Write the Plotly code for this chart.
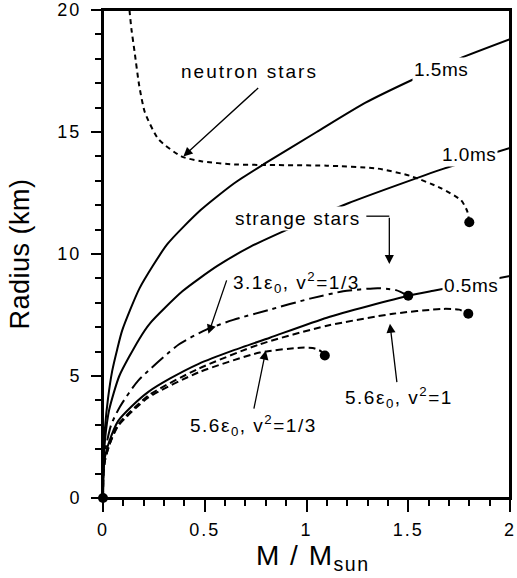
import plotly.graph_objects as go

# ---------------- data ----------------
# strange stars, rotating at 1.5 ms
m_15 = [0, 0.002, 0.01, 0.025, 0.045, 0.07, 0.094, 0.18, 0.316, 0.48, 0.645, 0.794, 1.05, 1.29, 1.51, 1.75, 2.0]
r_15 = [0, 1.5, 2.9, 4.1, 5.2, 6.1, 6.86, 8.6, 10.4, 11.8, 12.9, 13.7, 15.0, 16.2, 17.1, 18.0, 18.8]
# 1.0 ms
m_10 = [0, 0.002, 0.01, 0.03, 0.08, 0.177, 0.23, 0.39, 0.56, 0.725, 0.905, 1.205, 1.675, 2.0]
r_10 = [0, 1.4, 2.4, 3.6, 5.0, 6.5, 7.15, 8.47, 9.5, 10.3, 11.0, 12.08, 13.5, 14.35]
# 0.5 ms
m_05 = [0, 0.002, 0.01, 0.03, 0.074, 0.14, 0.223, 0.33, 0.47, 0.64, 0.82, 1.1, 1.5, 1.63, 2.0]
r_05 = [0, 1.0, 1.7, 2.3, 3.15, 3.75, 4.35, 4.9, 5.5, 6.05, 6.57, 7.39, 8.29, 8.5, 9.1]
# 3.1 eps0, v^2 = 1/3
m_31 = [0, 0.002, 0.01, 0.04, 0.084, 0.172, 0.374, 0.508, 0.64, 0.82, 1.017, 1.18, 1.35, 1.44, 1.50]
r_31 = [0, 1.1, 1.9, 3.0, 3.75, 4.8, 6.3, 6.9, 7.3, 7.72, 8.17, 8.47, 8.6, 8.52, 8.29]
# 5.6 eps0, v^2 = 1
m_56a = [0, 0.002, 0.01, 0.03, 0.074, 0.223, 0.47, 0.77, 1.1, 1.425, 1.67, 1.75, 1.795]
r_56a = [0, 1.0, 1.55, 2.15, 3.0, 4.2, 5.3, 6.3, 7.06, 7.55, 7.75, 7.72, 7.55]
# 5.6 eps0, v^2 = 1/3
m_56b = [0, 0.002, 0.01, 0.03, 0.074, 0.223, 0.47, 0.77, 0.97, 1.03, 1.07, 1.09]
r_56b = [0, 1.0, 1.55, 2.15, 2.95, 4.12, 5.15, 5.96, 6.16, 6.15, 6.02, 5.84]
# neutron stars
m_ns = [0.13, 0.14, 0.155, 0.178, 0.206, 0.273, 0.385, 0.483, 0.646, 0.78, 1.1, 1.35, 1.51, 1.66, 1.76, 1.79, 1.80]
r_ns = [20, 19.2, 18.3, 16.9, 15.8, 14.7, 14.0, 13.8, 13.67, 13.65, 13.62, 13.5, 13.2, 12.7, 12.2, 11.75, 11.3]

x_ticks = [0, 0.5, 1, 1.5, 2]
x_tick_text = ["0", "0.5", "1", "1.5", "2"]
y_ticks = [0, 5, 10, 15, 20]
y_tick_text = ["0", "5", "10", "15", "20"]

FONT = "Liberation Sans, Arial, sans-serif"


def sp(text, ls):
    return f"<span style='letter-spacing:{ls}px'>{text}</span>"


fig = go.Figure()

curves = [
    (m_15, r_15, "solid"),
    (m_10, r_10, "solid"),
    (m_05, r_05, "solid"),
    (m_31, r_31, "15px,5px,4px,5px"),
    (m_56a, r_56a, "7px,4px"),
    (m_56b, r_56b, "7px,4px"),
    (m_ns, r_ns, "5px,4px"),
]
for mx, ry, dash in curves:
    fig.add_trace(go.Scatter(x=mx, y=ry, mode="lines",
                             line=dict(color="black", width=2, dash=dash, shape="spline", smoothing=0.6),
                             showlegend=False, hoverinfo="skip"))

# end-point dots (maximum mass) and origin
dot_m = [m_ns[-1], m_31[-1], m_56a[-1], m_56b[-1], m_15[0]]
dot_r = [r_ns[-1], r_31[-1], r_56a[-1], r_56b[-1], r_15[0]]
fig.add_trace(go.Scatter(x=dot_m, y=dot_r, mode="markers", cliponaxis=False,
                         marker=dict(color="black", size=10), showlegend=False, hoverinfo="skip"))

ann = []
lab_font = dict(family=FONT, size=19, color="black")

# curve labels sitting on the curves (white background cuts the line)
for txt, x, y in [("1.5ms", 1.66, 17.55), ("1.0ms", 1.80, 14.08), ("0.5ms", 1.81, 8.69)]:
    ann.append(dict(x=x, y=y, xref="x", yref="y", text=sp(txt, 0.5), showarrow=False,
                    font=lab_font, bgcolor="white", borderpad=1))

ann.append(dict(x=0.955, y=11.47, xref="x", yref="y", text=sp("strange stars", 1.2), showarrow=False,
                font=lab_font, bgcolor="white", borderpad=1))
ann.append(dict(x=0.72, y=17.47, xref="x", yref="y", text=sp("neutron stars", 2), showarrow=False,
                font=lab_font))
ann.append(dict(x=0.95, y=8.85, xref="x", yref="y",
                text=sp("3.1ε<sub>0</sub>, v<sup>2</sup>=1/3", 1.5), showarrow=False, font=lab_font))
ann.append(dict(x=1.455, y=4.1, xref="x", yref="y",
                text=sp("5.6ε<sub>0</sub>, v<sup>2</sup>=1", 1.5), showarrow=False, font=lab_font))
ann.append(dict(x=0.74, y=2.97, xref="x", yref="y",
                text=sp("5.6ε<sub>0</sub>, v<sup>2</sup>=1/3", 1.5), showarrow=False, font=lab_font))

# arrows (tail -> head)
arrows = [
    (0.77, 16.86, 0.395, 14.0),
    (1.407, 11.55, 1.407, 9.59),
    (0.61, 8.98, 0.518, 6.73),
    (1.445, 4.69, 1.41, 7.14),
    (0.74, 3.6, 0.80, 6.04),
]
for ax_, ay_, hx, hy in arrows:
    ann.append(dict(x=hx, y=hy, ax=ax_, ay=ay_, xref="x", yref="y", axref="x", ayref="y",
                    text="", showarrow=True, arrowhead=2, arrowsize=1.4, arrowwidth=1.3,
                    arrowcolor="black", standoff=0, startstandoff=0))

# axis titles
ann.append(dict(x=-0.205, y=0.5, xref="paper", yref="paper", xanchor="center", yanchor="middle",
                text=sp("Radius (km)", 0.5), textangle=-90,
                showarrow=False, font=dict(family=FONT, size=27, color="black")))
ann.append(dict(x=0.515, y=-0.122, xref="paper", yref="paper", xanchor="center", yanchor="middle",
                text=sp("M / M<sub>sun</sub>", 1.5),
                showarrow=False, font=dict(family=FONT, size=28, color="black")))

fig.add_shape(type="line", x0=1.294, y0=11.55, x1=1.407, y1=11.55, xref="x", yref="y",
              line=dict(color="black", width=1.3))
# frame around the plotting area
fig.add_shape(type="rect", x0=0, y0=0, x1=1, y1=1, xref="paper", yref="paper",
              line=dict(color="black", width=2), fillcolor="rgba(0,0,0,0)", layer="above")

fig.update_layout(
    width=517, height=578,
    margin=dict(l=103, r=7, t=10, b=80, autoexpand=False),
    paper_bgcolor="white", plot_bgcolor="white",
    annotations=ann,
    font=dict(family=FONT, color="black"),
)
fig.update_xaxes(range=[0, 2], tickvals=x_ticks, ticktext=[sp(t, 2) for t in x_tick_text],
                 showgrid=False, zeroline=False, showline=True, linecolor="black", linewidth=2,
                 mirror=True, ticks="outside", ticklen=12, tickwidth=2, tickcolor="black",
                 ticklabelstandoff=2, ticklabeloverflow="allow",
                 tickfont=dict(family=FONT, size=18, color="black"),
                 minor=dict(dtick=0.1, ticks="outside", ticklen=6, tickwidth=1.5, tickcolor="black"))
fig.update_yaxes(range=[0, 20], tickvals=y_ticks, ticktext=[sp(t, 2) for t in y_tick_text],
                 showgrid=False, zeroline=False, showline=True, linecolor="black", linewidth=2,
                 mirror=True, ticks="outside", ticklen=10, tickwidth=2, tickcolor="black",
                 ticklabelstandoff=6, ticklabeloverflow="allow",
                 tickfont=dict(family=FONT, size=18, color="black"),
                 minor=dict(dtick=1, ticks="outside", ticklen=6, tickwidth=1.5, tickcolor="black"))

fig.write_html("out.html", config={"displayModeBar": False},
               post_script="document.body.style.margin='0px';document.body.style.overflow='hidden';")
